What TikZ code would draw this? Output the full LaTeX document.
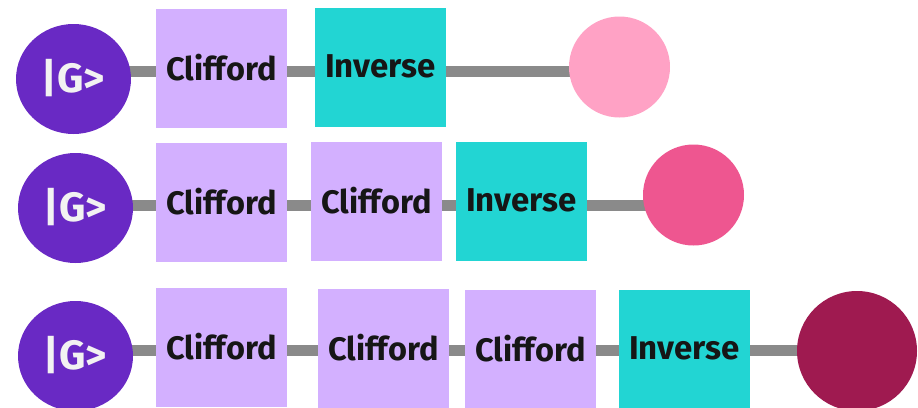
\documentclass[tikz,border=0pt]{standalone}
\usepackage{fontspec}
\setmainfont{Fira Sans}
\usetikzlibrary{shapes.geometric,backgrounds}
\definecolor{gpurple}{HTML}{6929C4}
\definecolor{lilac}{HTML}{D3B0FF}
\definecolor{teal}{HTML}{22D5D3}
\definecolor{lpink}{HTML}{FFA2C5}
\definecolor{mpink}{HTML}{EE5690}
\definecolor{dred}{HTML}{9F1A50}
\definecolor{wiregray}{HTML}{8A8A8A}
\definecolor{ink}{HTML}{161616}
\definecolor{gtext}{HTML}{F2F2F2}
\tikzset{
  gstate/.style={ellipse, fill=gpurple, minimum width=115pt, minimum height=110pt, inner sep=0pt,
    text=gtext, font=\fontsize{41}{41}\selectfont\bfseries},
  cliff/.style={rectangle, fill=lilac, minimum width=131pt, minimum height=119pt, inner sep=0pt,
    text=ink, font=\fontsize{32.5}{33}\selectfont\bfseries},
  inv/.style={rectangle, fill=teal, minimum width=131pt, minimum height=119pt, inner sep=0pt,
    text=ink, font=\fontsize{33}{33}\selectfont\bfseries},
  outc/.style={circle, minimum size=#1, inner sep=0pt},
  wire/.style={draw=wiregray, line width=11pt}
}
\newcommand{\gket}{\raisebox{7pt}{|G>}}
\newcommand{\lift}[1]{\raisebox{2pt}{#1}}
\begin{document}
\begin{tikzpicture}[x=1pt,y=-1pt]
\useasboundingbox (0,0) rectangle (918,407);
% row 1
\coordinate (L1) at (0,71);
\node[gstate] (G1) at (73.5,79) {\gket};
\node[cliff] (C1) at (221.5,68.5) {\lift{Clifford}};
\node[inv] (I1) at (380.5,67.5) {\lift{Inverse}};
\node[outc=101pt, fill=lpink] (P1) at (619.5,67) {};
% row 2
\coordinate (L2) at (0,205);
\node[gstate] (G2) at (75.5,208) {\gket};
\node[cliff] (C2a) at (221.5,202.5) {\lift{Clifford}};
\node[cliff] (C2b) at (376.5,201.5) {\lift{Clifford}};
\node[inv] (I2) at (521.5,201.5) {\lift{Inverse}};
\node[outc=101pt, fill=mpink] (P2) at (693.5,195) {};
% row 3
\coordinate (L3) at (0,350);
\node[gstate] (G3) at (75.5,356) {\gket};
\node[cliff] (C3a) at (221.5,347.5) {\lift{Clifford}};
\node[cliff] (C3b) at (383.5,348.5) {\lift{Clifford}};
\node[cliff] (C3c) at (530.5,349.5) {\lift{Clifford}};
\node[inv] (I3) at (684.5,349.5) {\lift{Inverse}};
\node[outc=120pt, fill=dred] (D3) at (857,351) {};
\begin{scope}[on background layer]
\draw[wire] (G1.center |- L1) -- (C1.center |- L1);
\draw[wire] (C1.center |- L1) -- (I1.center |- L1);
\draw[wire] (I1.center |- L1) -- (P1.center |- L1);
\draw[wire] (G2.center |- L2) -- (C2a.center |- L2);
\draw[wire] (C2a.center |- L2) -- (C2b.center |- L2);
\draw[wire] (C2b.center |- L2) -- (I2.center |- L2);
\draw[wire] (I2.center |- L2) -- (P2.center |- L2);
\draw[wire] (G3.center |- L3) -- (C3a.center |- L3);
\draw[wire] (C3a.center |- L3) -- (C3b.center |- L3);
\draw[wire] (C3b.center |- L3) -- (C3c.center |- L3);
\draw[wire] (C3c.center |- L3) -- (I3.center |- L3);
\draw[wire] (I3.center |- L3) -- (D3.center |- L3);
\end{scope}
\end{tikzpicture}
\end{document}
